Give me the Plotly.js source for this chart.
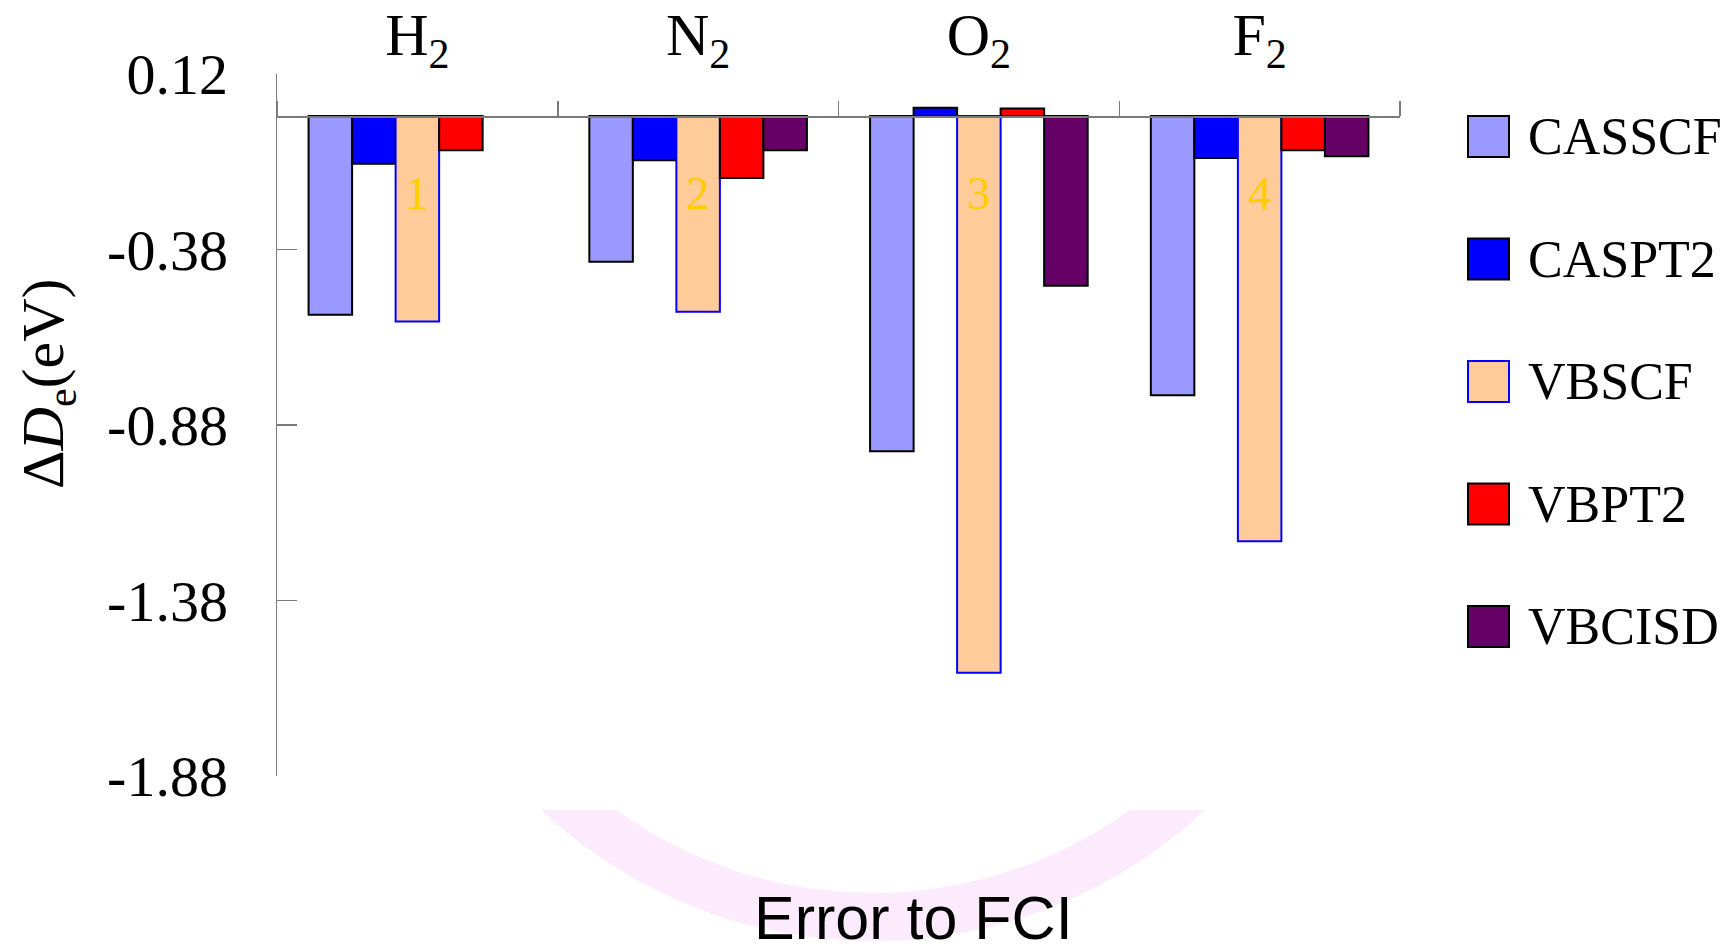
<!DOCTYPE html>
<html>
<head>
<meta charset="utf-8">
<script src="https://cdn.plot.ly/plotly-3.0.1.min.js"></script>
<style>
  html, body { margin: 0; padding: 0; background: #ffffff; }
  #chart { width: 1724px; height: 949px; }
</style>
</head>
<body>
<div id="chart"></div>
<script>
// ---- data ----
const categories = ['H2', 'N2', 'O2', 'F2'];
const categoryLabels = ['H<sub>2</sub>', 'N<sub>2</sub>', 'O<sub>2</sub>', 'F<sub>2</sub>'];
const seriesNames = ['CASSCF', 'CASPT2', 'VBSCF', 'VBPT2', 'VBCISD'];
const casscf = [-0.566, -0.415, -0.955, -0.795];
const caspt2 = [-0.136, -0.126, 0.024, -0.119];
const vbscf  = [-0.585, -0.557, -1.586, -1.211];
const vbpt2  = [-0.097, -0.176, 0.022, -0.097];
const vbcisd = [null, -0.097, -0.483, -0.114];
const yTickVals = [0.12, -0.38, -0.88, -1.38, -1.88];
const yTickText = ['0.12', '-0.38', '-0.88', '-1.38', '-1.88'];
const barNumbers = ['1', '2', '3', '4'];
const barNumberLevel = -0.22;

// ---- styles ----
const fills = ['#9999FF', '#0000FF', '#FFCC99', '#FF0000', '#660066'];
const outlines = ['#000000', '#000000', '#0000FF', '#000000', '#000000'];
const seriesValues = [casscf, caspt2, vbscf, vbpt2, vbcisd];

const traces = seriesValues.map((vals, i) => ({
  type: 'bar',
  name: seriesNames[i],
  x: categories,
  y: vals,
  marker: { color: fills[i], line: { color: outlines[i], width: 2 } },
  showlegend: false,
  hoverinfo: 'skip'
}));

// plot geometry (pixels) used only for paper-fraction conversion of decorations
const W = 1724, H = 949;
const mL = 277, mR = 324, mT = 74, mB = 173;
const pw = W - mL - mR, ph = H - mT - mB;
const px = v => (v - mL) / pw;
const py = v => (H - mB - v) / ph;

const annotations = [];
const shapes = [];

// numbers inside the VBSCF bars
categories.forEach((c, i) => {
  annotations.push({
    x: c, y: barNumberLevel, xref: 'x', yref: 'y',
    text: barNumbers[i], showarrow: false,
    font: { family: 'Liberation Serif', size: 47, color: '#FFCC00' },
    xanchor: 'center', yanchor: 'middle'
  });
});

// custom legend with large swatches
const legTop = 136.5, legStep = 122.5, sw = 41;
seriesNames.forEach((n, i) => {
  const cy = legTop + i * legStep;
  shapes.push({
    type: 'rect', xref: 'paper', yref: 'paper',
    x0: px(1468), x1: px(1468 + sw), y0: py(cy + sw / 2), y1: py(cy - sw / 2),
    fillcolor: fills[i], line: { color: outlines[i], width: 2 }
  });
  annotations.push({
    xref: 'paper', yref: 'paper', x: px(1526), y: py(cy),
    xanchor: 'left', yanchor: 'middle', showarrow: false, text: n,
    font: { family: 'Liberation Serif', size: 52, color: '#000000' }
  });
});

// faint watermark ring (below everything), hidden above the lower strip
const ringCx = 873, ringCy = 455, ringR = 462;
shapes.push({
  type: 'circle', xref: 'paper', yref: 'paper', layer: 'below',
  x0: px(ringCx - ringR), x1: px(ringCx + ringR),
  y0: py(ringCy + ringR), y1: py(ringCy - ringR),
  line: { color: '#FCEBFC', width: 48 }, fillcolor: 'rgba(0,0,0,0)'
});
shapes.push({
  type: 'rect', xref: 'paper', yref: 'paper', layer: 'below',
  x0: px(0), x1: px(W), y0: py(810), y1: py(0),
  fillcolor: '#ffffff', line: { width: 0 }
});

// axis titles
annotations.push({
  xref: 'paper', yref: 'paper', x: px(913), y: py(918),
  xanchor: 'center', yanchor: 'middle', showarrow: false,
  text: 'Error to FCI',
  font: { family: 'Liberation Sans', size: 61, color: '#000000' }
});
annotations.push({
  xref: 'paper', yref: 'paper', x: px(47), y: py(384),
  xanchor: 'center', yanchor: 'middle', showarrow: false, textangle: -90,
  text: 'Δ<i>D</i><sub>e</sub>(eV)',
  font: { family: 'Liberation Serif', size: 60, color: '#000000' }
});

const layout = {
  width: W, height: H,
  margin: { l: mL, r: mR, t: mT, b: mB, pad: 0 },
  paper_bgcolor: '#ffffff', plot_bgcolor: 'rgba(0,0,0,0)',
  showlegend: false,
  barmode: 'group', bargap: 0.225, bargroupgap: 0,
  font: { family: 'Liberation Serif', color: '#000000' },
  xaxis: {
    type: 'category', categoryorder: 'array', categoryarray: categories,
    tickmode: 'array', tickvals: categories, ticktext: categoryLabels,
    side: 'top', anchor: 'free', position: 0.94,
    ticks: 'outside', tickson: 'boundaries', ticklen: 15, tickwidth: 1.5, tickcolor: '#7a7a7a',
    showline: true, linecolor: '#7a7a7a', linewidth: 1.5,
    showgrid: false, zeroline: false,
    tickfont: { family: 'Liberation Serif', size: 60, color: '#000000' },
    ticklabelstandoff: 37, fixedrange: true
  },
  yaxis: {
    range: [-1.88, 0.12],
    tickmode: 'array', tickvals: yTickVals, ticktext: yTickText,
    ticks: 'inside', ticklen: 20, tickwidth: 1.5, tickcolor: '#7a7a7a',
    showline: true, linecolor: '#7a7a7a', linewidth: 1.5,
    showgrid: false, zeroline: false,
    tickfont: { family: 'Liberation Serif', size: 58, color: '#000000' },
    ticklabelstandoff: 36, fixedrange: true
  },
  annotations: annotations,
  shapes: shapes
};

Plotly.newPlot('chart', traces, layout, { displayModeBar: false, staticPlot: true });
</script>
</body>
</html>
